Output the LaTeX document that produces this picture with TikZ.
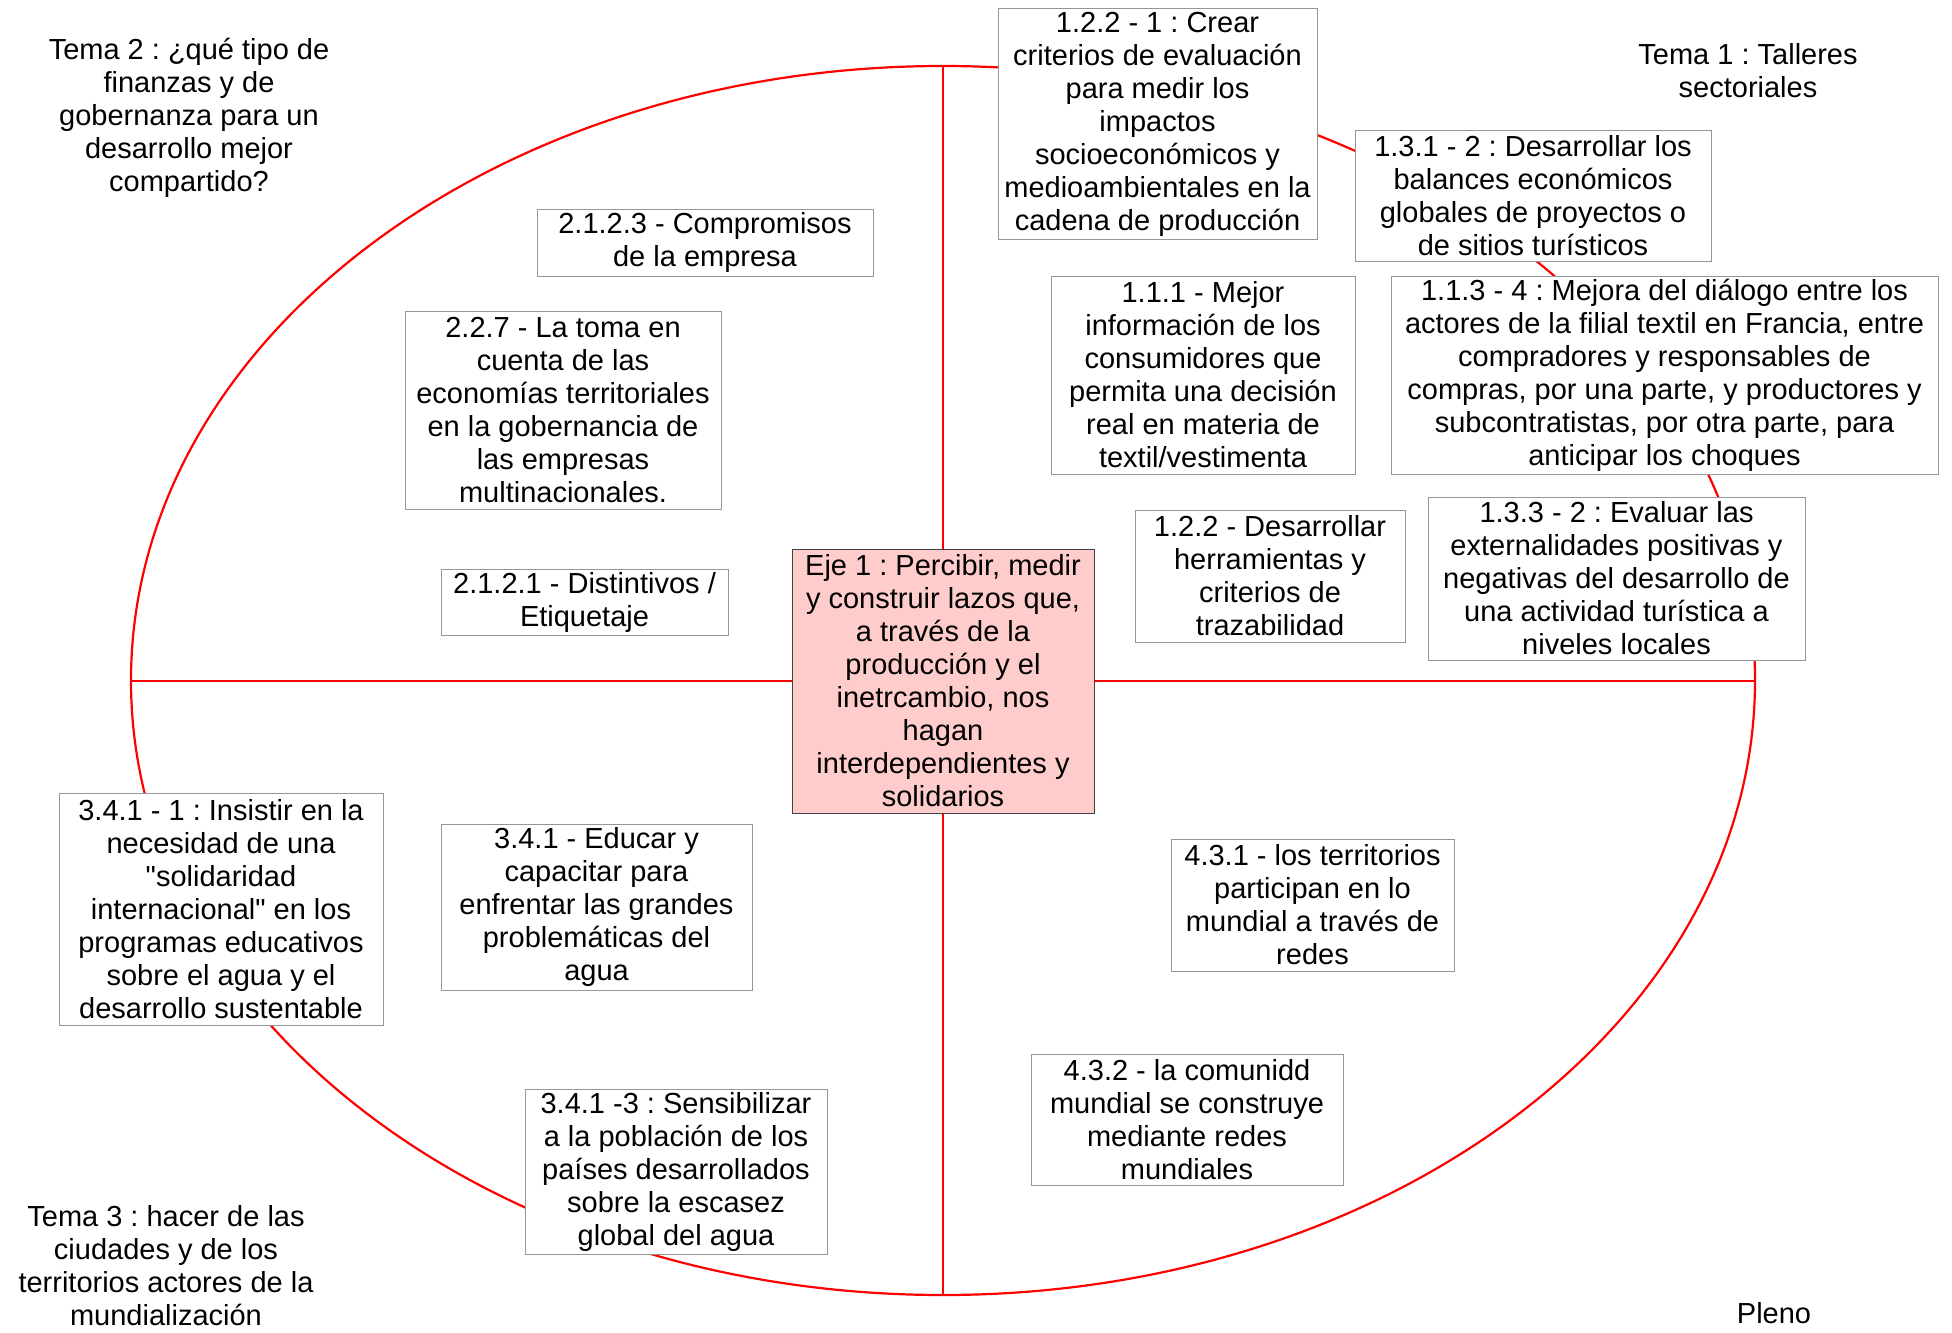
\documentclass[tikz,border=0pt]{standalone}
\usepackage{fontspec}
\setmainfont{Liberation Sans}
\usepackage{tikz}
\usetikzlibrary{calc, backgrounds, positioning, fit}
\definecolor{rojo}{RGB}{255,0,0}
\definecolor{rosa}{RGB}{255,204,204}
\definecolor{borde}{RGB}{150,150,150}
\frenchspacing

\begin{document}
\begin{tikzpicture}[x=0.5pt, y=-0.5pt,
	font=\fontsize{14.5}{16.5}\selectfont,
	caja/.style={rectangle, draw=borde, line width=0.5pt, fill=white, align=center, inner xsep=0pt, inner ysep=0pt},
	tema/.style={align=center, inner sep=0pt},
	linea/.style={draw=rojo, line width=1.1pt}]
	\useasboundingbox (0,0) rectangle (1952,1332);
	% eje central
	\node (eje) [caja, draw=black!75, fill=rosa, minimum width=151pt, minimum height=132pt] at (943,681) {Eje 1 : Percibir, medir\\y construir lazos que,\\a través de la\\producción y el\\inetrcambio, nos\\hagan\\interdependientes y\\solidarios};
	% tema 1
	\node (c122a) [caja, minimum width=159.5pt, minimum height=115.5pt] at (1157.5,124.5) {1.2.2 - 1 : Crear\\criterios de evaluación\\para medir los\\impactos\\socioeconómicos y\\medioambientales en la\\cadena de producción};
	\node (c131) [caja, minimum width=178pt, minimum height=65pt] at (1533,196) {1.3.1 - 2 : Desarrollar los\\balances económicos\\globales de proyectos o\\de sitios turísticos};
	\node (c113) [caja, minimum width=273.5pt, minimum height=99pt] at (1664.5,375) {1.1.3 - 4 : Mejora del diálogo entre los\\actores de la filial textil en Francia, entre\\compradores y responsables de\\compras, por una parte, y productores y\\subcontratistas, por otra parte, para\\anticipar los choques};
	\node (c133) [caja, minimum width=188.5pt, minimum height=81.5pt] at (1616.5,578.5) {1.3.3 - 2 : Evaluar las\\externalidades positivas y\\negativas del desarrollo de\\una actividad turística a\\niveles locales};
	\node (c111) [caja, minimum width=152pt, minimum height=99pt] at (1203,375) {1.1.1 - Mejor\\información de los\\consumidores que\\permita una decisión\\real en materia de\\textil/vestimenta};
	\node (c122) [caja, minimum width=135pt, minimum height=66pt] at (1270,576) {1.2.2 - Desarrollar\\herramientas y\\criterios de\\trazabilidad};
	% tema 2
	\node (c2123) [caja, minimum width=168pt, minimum height=33pt] at (705,243) {2.1.2.3 - Compromisos\\de la empresa};
	\node (c227) [caja, minimum width=158pt, minimum height=99pt] at (563,410) {2.2.7 - La toma en\\cuenta de las\\economías territoriales\\en la gobernancia de\\las empresas\\multinacionales.};
	\node (c2121) [caja, minimum width=143.5pt, minimum height=33pt] at (584.5,602) {2.1.2.1 - Distintivos /\\Etiquetaje};
	% tema 3
	\node (c3411) [caja, minimum width=162pt, minimum height=116pt] at (221,909) {3.4.1 - 1 : Insistir en la\\necesidad de una\\\textquotedbl solidaridad\\internacional\textquotedbl{} en los\\programas educativos\\sobre el agua y el\\desarrollo sustentable};
	\node (c341) [caja, minimum width=155.5pt, minimum height=83pt] at (596.5,907) {3.4.1 - Educar y\\capacitar para\\enfrentar las grandes\\problemáticas del\\agua};
	\node (c3413) [caja, minimum width=151pt, minimum height=82.5pt] at (676,1171.5) {3.4.1 -3 : Sensibilizar\\a la población de los\\países desarrollados\\sobre la escasez\\global del agua};
	% pleno
	\node (c431) [caja, minimum width=141.5pt, minimum height=66pt] at (1312.5,905) {4.3.1 - los territorios\\participan en lo\\mundial a través de\\redes};
	\node (c432) [caja, minimum width=156pt, minimum height=65.5pt] at (1187,1119.5) {4.3.2 - la comunidd\\mundial se construye\\mediante redes\\mundiales};
	% titulos
	\node (t2) [tema] at (189,118) {Tema 2 : ¿qué tipo de\\finanzas y de\\gobernanza para un\\desarrollo mejor\\compartido?};
	\node (t1) [tema] at (1748,71) {Tema 1 : Talleres\\sectoriales};
	\node (t3) [tema] at (166,1266) {Tema 3 : hacer de las\\ciudades y de los\\territorios actores de la\\mundialización};
	\node (pleno) [tema] at (1774,1313) {Pleno};
	% elipse y ejes
	\coordinate (arriba) at (943,66);
	\coordinate (abajo) at (943,1295);
	\coordinate (izq) at (131,681);
	\coordinate (der) at (1755,681);
	\begin{scope}[on background layer]
	\draw[linea] (943,680.5) ellipse [x radius=812, y radius=614.5];
	\end{scope}
	\path[linea] (eje) edge (arriba)
	             (eje) edge (abajo)
	             (eje) edge (izq)
	             (eje) edge (der);
\end{tikzpicture}
\end{document}
